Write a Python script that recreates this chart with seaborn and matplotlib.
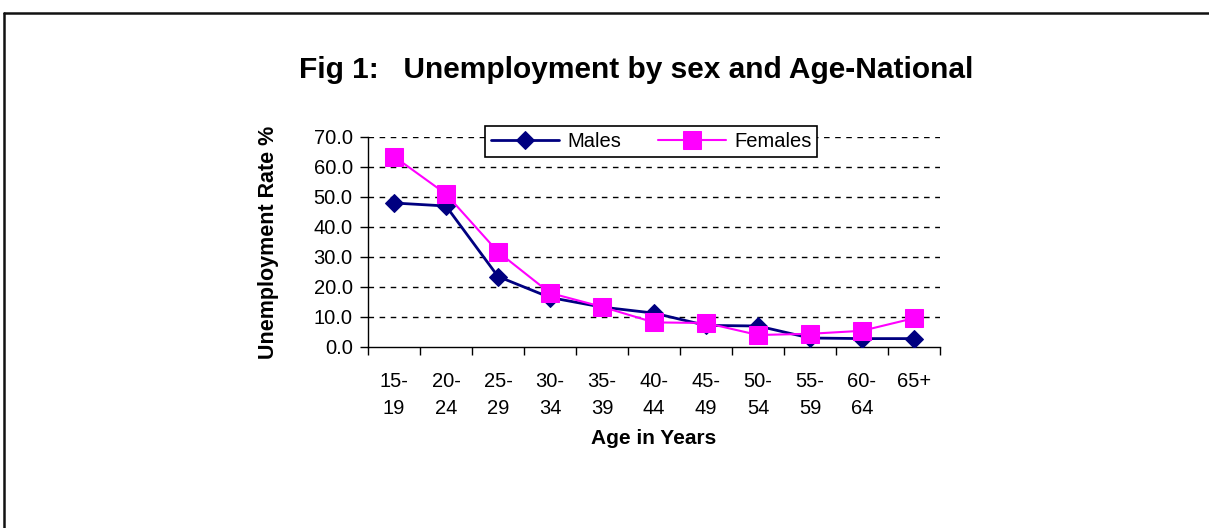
import matplotlib
matplotlib.use('Agg')
import matplotlib.pyplot as plt
from matplotlib.lines import Line2D
from matplotlib.ticker import FixedLocator, NullFormatter
import pandas as pd
import seaborn as sns

# Data
age_groups = ['15-\n19', '20-\n24', '25-\n29', '30-\n34', '35-\n39', '40-\n44',
              '45-\n49', '50-\n54', '55-\n59', '60-\n64', '65+']
males = [48.0, 47.0, 23.5, 16.5, 13.3, 11.3, 7.2, 7.0, 3.0, 2.8, 2.8]
females = [63.5, 51.0, 31.7, 18.0, 13.4, 8.2, 8.0, 4.0, 4.4, 5.4, 9.6]
y_ticks = [0, 10, 20, 30, 40, 50, 60, 70]

df = pd.DataFrame({
    'pos': list(range(len(age_groups))) * 2,
    'rate': males + females,
    'sex': ['Males'] * len(males) + ['Females'] * len(females),
})

sns.set_style('white')
plt.rcParams['font.family'] = ['Liberation Sans', 'DejaVu Sans']
plt.rcParams.update({'text.color': 'black', 'axes.labelcolor': 'black',
                     'xtick.color': 'black', 'ytick.color': 'black'})

fig = plt.figure(figsize=(12.09, 5.28), dpi=100)
ax = fig.add_axes([368 / 1209, 1 - 347 / 528, 572 / 1209, 210 / 528])

# dashed grid lines behind the data
for v in y_ticks[1:]:
    ax.axhline(v, color='black', lw=1, ls=(0, (4, 4)), zorder=0)

sns.lineplot(data=df[df['sex'] == 'Males'], x='pos', y='rate', ax=ax,
             color='#000080', lw=2, marker='D', markersize=9,
             markeredgecolor='#000080', label='Males', zorder=3)
sns.lineplot(data=df[df['sex'] == 'Females'], x='pos', y='rate', ax=ax,
             color='#FF00FF', lw=1.5, marker='s', markersize=13,
             markeredgecolor='#FF00FF', label='Females', zorder=4)

ax.set_xlim(-0.5, len(age_groups) - 0.5)
ax.set_ylim(0, 70)

# labels at category centres, tick marks at category boundaries
ax.set_xticks(range(len(age_groups)))
ax.set_xticklabels(age_groups, fontsize=14.5, linespacing=1.55)
ax.tick_params(axis='x', which='major', length=0, pad=18)
ax.xaxis.set_minor_locator(FixedLocator([i - 0.5 for i in range(len(age_groups) + 1)]))
ax.xaxis.set_minor_formatter(NullFormatter())
ax.tick_params(axis='x', which='minor', length=6, width=1, color='black', direction='out', bottom=True)

ax.set_yticks(y_ticks)
ax.set_yticklabels([f'{v:.1f}' for v in y_ticks], fontsize=14.5)
ax.tick_params(axis='y', length=6, width=1, color='black', direction='out', left=True, pad=5)

for side in ['top', 'right']:
    ax.spines[side].set_visible(False)
for side in ['left', 'bottom']:
    ax.spines[side].set_color('black')
    ax.spines[side].set_linewidth(1)

ax.set_xlabel('Age in Years', fontsize=15, fontweight='bold', labelpad=8)
ax.set_ylabel('Unemployment Rate %', fontsize=15.5, fontweight='bold', labelpad=25)

leg = ax.legend(loc='center', bbox_to_anchor=(0.495, 0.98), ncol=2, fontsize=14.5,
                frameon=True, fancybox=False, edgecolor='black', framealpha=1,
                handlelength=3.4, columnspacing=1.8, borderpad=0.3, handletextpad=0.4)
leg.get_frame().set_linewidth(1.2)
leg.set_zorder(10)

fig.text(636 / 1209, 1 - 70 / 528, 'Fig 1:   Unemployment by sex and Age-National',
         ha='center', va='center', fontsize=21.5, fontweight='bold')

# outer frame (top and left edges)
fig.add_artist(Line2D([4 / 1209, 1], [1 - 13 / 528, 1 - 13 / 528], color='#111111', lw=1.8))
fig.add_artist(Line2D([4 / 1209, 4 / 1209], [0, 1 - 13 / 528], color='#111111', lw=1.8))

fig.savefig('out.png', dpi=100)
